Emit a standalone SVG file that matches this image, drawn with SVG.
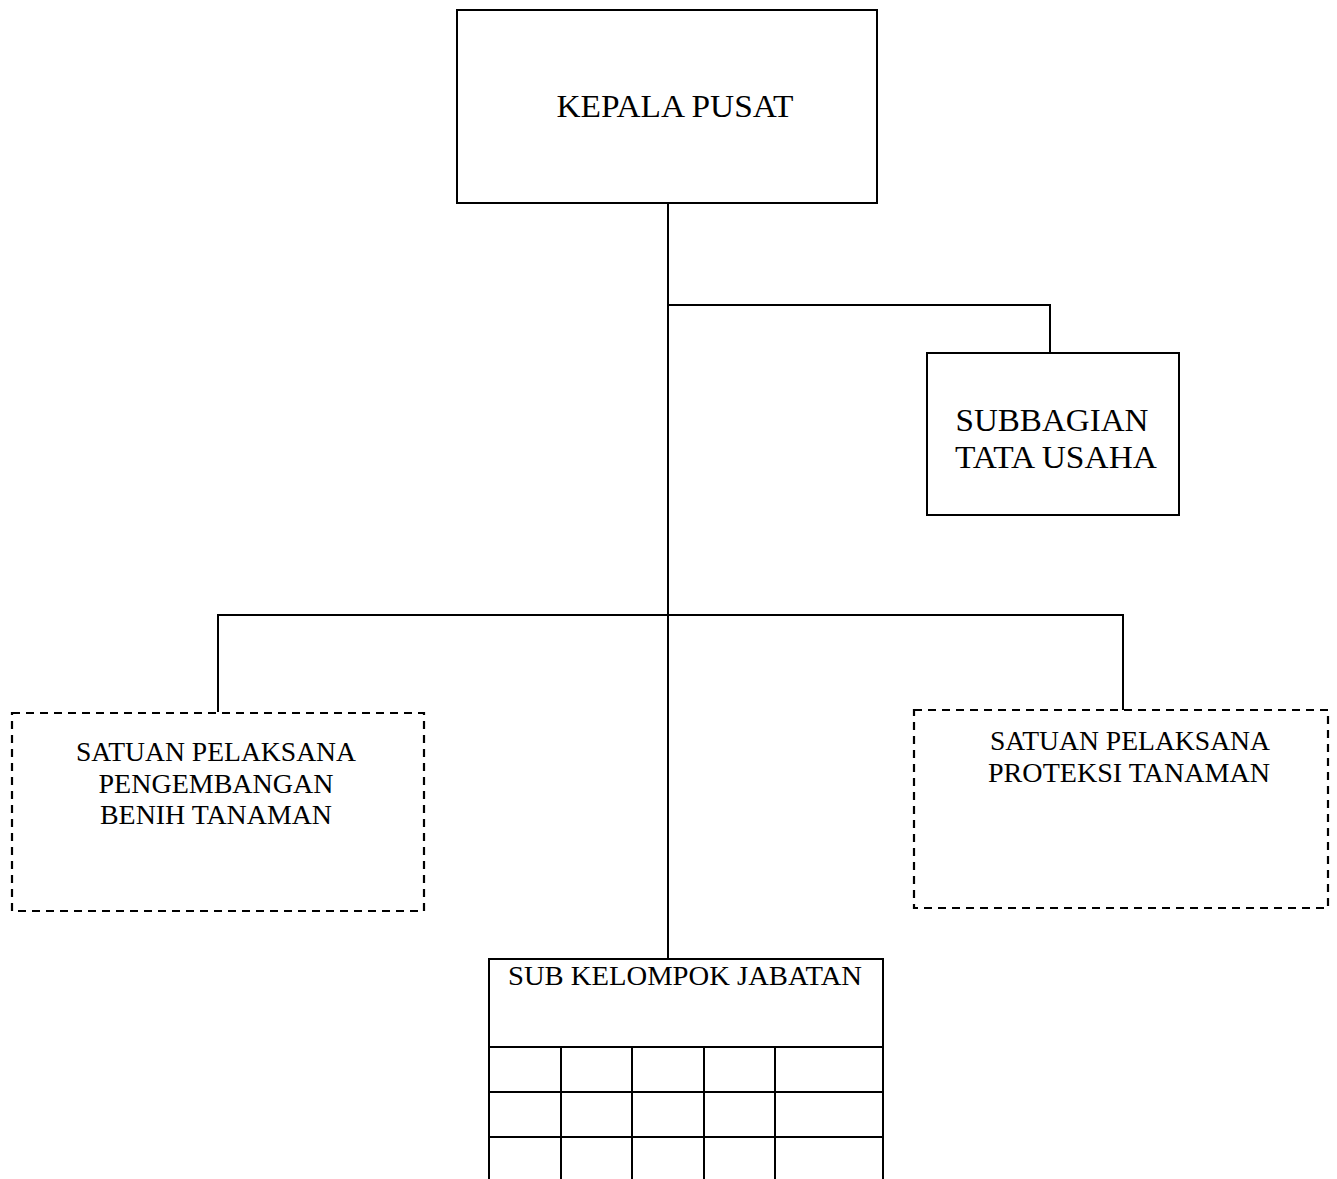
<svg xmlns="http://www.w3.org/2000/svg" width="1337" height="1179" viewBox="0 0 1337 1179">
<style>
.box{fill:#fff;stroke:#000;stroke-width:2}
.dash{fill:#fff;stroke:#000;stroke-width:2.2;stroke-dasharray:8 6}
.ln{fill:none;stroke:#000;stroke-width:2}
.t{font-family:"Liberation Serif","DejaVu Serif",serif;fill:#000;text-anchor:middle}
</style>
<rect width="1337" height="1179" fill="#fff"/>
<g id="connectors">
<path class="ln" d="M668 203 V958"/>
<path class="ln" d="M668 305 H1050 V353"/>
<path class="ln" d="M218 712 V615 H1123 V710"/>
</g>
<g id="kepala-pusat">
<rect class="box" x="457" y="10" width="420" height="193"/>
<text class="t" x="675" y="117" font-size="32" textLength="237" lengthAdjust="spacingAndGlyphs">KEPALA PUSAT</text>
</g>
<g id="subbagian-tata-usaha">
<rect class="box" x="927" y="353" width="252" height="162"/>
<text class="t" x="1052" y="431" font-size="32" textLength="193" lengthAdjust="spacingAndGlyphs">SUBBAGIAN</text>
<text class="t" x="1056" y="468" font-size="32" textLength="202" lengthAdjust="spacingAndGlyphs">TATA USAHA</text>
</g>
<g id="satuan-benih">
<rect class="dash" x="12" y="713" width="412" height="198"/>
<text class="t" x="216" y="761" font-size="27" textLength="280" lengthAdjust="spacingAndGlyphs">SATUAN PELAKSANA</text>
<text class="t" x="216" y="793" font-size="27" textLength="235" lengthAdjust="spacingAndGlyphs">PENGEMBANGAN</text>
<text class="t" x="216" y="824" font-size="27" textLength="232" lengthAdjust="spacingAndGlyphs">BENIH TANAMAN</text>
</g>
<g id="satuan-proteksi">
<rect class="dash" x="914" y="710" width="414" height="198"/>
<text class="t" x="1130" y="750" font-size="27" textLength="280" lengthAdjust="spacingAndGlyphs">SATUAN PELAKSANA</text>
<text class="t" x="1129" y="782" font-size="27" textLength="282" lengthAdjust="spacingAndGlyphs">PROTEKSI TANAMAN</text>
</g>
<g id="sub-kelompok-jabatan">
<path class="ln" d="M489 1180 V959 H883 V1180"/>
<text class="t" x="685" y="985" font-size="28" textLength="354" lengthAdjust="spacingAndGlyphs">SUB KELOMPOK JABATAN</text>
<path class="ln" d="M489 1047 H883 M489 1092 H883 M489 1137 H883 M561 1047 V1180 M632 1047 V1180 M704 1047 V1180 M775 1047 V1180"/>
</g>
</svg>
